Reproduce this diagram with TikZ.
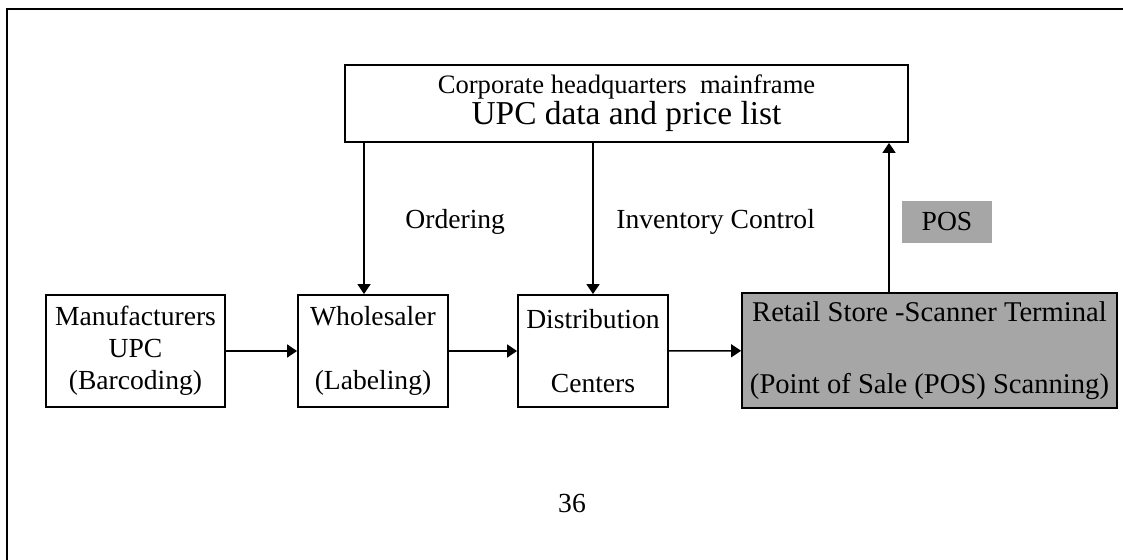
\documentclass[tikz,border=0pt]{standalone}
\usepackage{fontspec}
\setmainfont{Liberation Serif}
\usepackage{tikz}
\usetikzlibrary{arrows.meta, positioning, calc}

\begin{document}
\begin{tikzpicture}[x=0.5pt, y=-0.5pt,
        hop/.style={draw, line width=0.9pt, minimum width=75pt, minimum height=56pt, align=center, inner sep=0pt, font=\fontsize{13.8}{16}\selectfont},
        muiten/.style={-{Triangle[length=5pt,width=6.5pt]}, line width=0.75pt},
        nhan/.style={font=\fontsize{13.8}{16}\selectfont, inner sep=0pt}]

        \useasboundingbox (0,0) rectangle (1123,560);
        \draw[line width=1pt] (7,560) -- (7,9) -- (1123,9); % Khung ngoài

        % Hộp trụ sở chính
        \node[hop, minimum width=281.5pt, minimum height=38.5pt, font=\fontsize{13.3}{15.5}\selectfont] (tru) at (626.5,103.5) {Corporate headquarters\ \ mainframe\\{\fontsize{16.7}{15.5}\selectfont UPC data and price list}};

        % Các hộp của chuỗi cung ứng
        \node[hop, minimum width=89.5pt] (nsx) at (135.5,351) {Manufacturers\\UPC\\(Barcoding)};
        \node[hop] (bs) at (373,351) {Wholesaler\\[16pt](Labeling)};
        \node[hop] (pp) at (593,351) {Distribution\\[16pt]Centers};
        \node[hop, minimum width=187.5pt, minimum height=57.5pt, fill=black!35, font=\fontsize{14.3}{16}\selectfont] (ban) at (929.5,350.5) {Retail Store -Scanner Terminal\\[20pt](Point of Sale (POS) Scanning)};

        % Nhãn
        \node[nhan, fill=black!35, minimum width=45pt, minimum height=21pt] (pos) at (947,222) {POS};
        \node[nhan, anchor=west] (dh) at (405,222) {Ordering};
        \node[nhan, anchor=west] (kho) at (616,222) {Inventory Control};
        \node[nhan] (so) at (572,503) {36};

        % Mũi tên ngang
        \draw[muiten] (nsx) -- (bs);
        \draw[muiten] (bs) -- (pp);
        \draw[muiten] (pp) -- (ban);

        % Mũi tên dọc
        \coordinate (vaobs) at ($(bs.north)+(-9,0)$); % Điểm vào Wholesaler
        \coordinate (rapos) at ($(ban.north)+(-40.5,0)$); % Điểm ra POS
        \draw[muiten] (vaobs |- tru.south) -- (vaobs);
        \draw[muiten] (tru.south -| pp.north) -- (pp.north);
        \draw[muiten] (rapos) -- (rapos |- tru.south);

\end{tikzpicture}
\end{document}
